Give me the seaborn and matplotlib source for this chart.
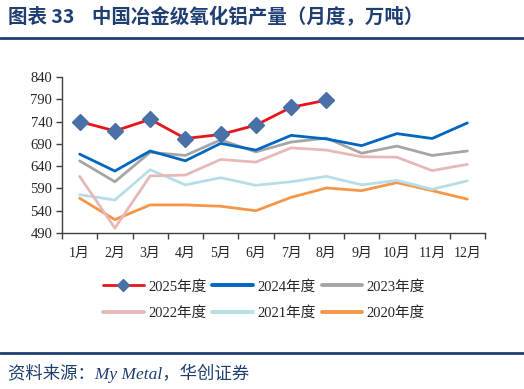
import numpy as np
import matplotlib
matplotlib.use("Agg")
import matplotlib.pyplot as plt
import pandas as pd
import seaborn as sns
from matplotlib.lines import Line2D

# 数据（万吨）
months = ['1月', '2月', '3月', '4月', '5月', '6月', '7月', '8月', '9月', '10月', '11月', '12月']
y2025 = [740, 719, 745, 702, 711, 732, 772, 788]
y2024 = [667, 629, 674, 652, 691, 676, 709, 701, 686, 713, 702, 737]
y2023 = [652, 605, 671, 664, 699, 672, 694, 703, 669, 685, 664, 674]
y2022 = [617, 501, 618, 620, 655, 649, 681, 676, 661, 660, 630, 644]
y2021 = [576, 564, 632, 598, 614, 597, 605, 617, 598, 608, 588, 607]
y2020 = [568, 520, 553, 553, 550, 540, 570, 591, 585, 603, 585, 566]

series = [
    ('2025年度', y2025, '#E8141B'),
    ('2024年度', y2024, '#0066C0'),
    ('2023年度', y2023, '#A6A6A6'),
    ('2022年度', y2022, '#E6B9B8'),
    ('2021年度', y2021, '#B7DEE8'),
    ('2020年度', y2020, '#F79646'),
]

sns.set_style("ticks")
plt.rcParams['font.family'] = ['Liberation Serif', 'Noto Sans CJK SC', 'DejaVu Sans']

fig = plt.figure(figsize=(5.24, 3.89), dpi=100)
ax = fig.add_axes([62/524, 1-233/389, (485-62)/524, (233-77)/389])

navy = '#1F3F73'
handles = {}
# 先画旧年份，再画2025
for name, vals, col in reversed(series):
    df = pd.DataFrame({'x': np.arange(len(vals)), 'v': vals})
    sns.lineplot(data=df, x='x', y='v', ax=ax, color=col, linewidth=2.0, legend=False)
    if name == '2025年度':
        ax.plot(df['x'], df['v'], linestyle='none', marker='D', markersize=8,
                markerfacecolor='#4A70A8', markeredgecolor='#4A70A8', zorder=5)
        handles[name] = Line2D([], [], color=col, linewidth=2.0, marker='D', markersize=6,
                               markerfacecolor='#4A70A8', markeredgecolor='#4A70A8')
    else:
        handles[name] = Line2D([], [], color=col, linewidth=2.8)

ax.set_xlim(-0.5, 11.5)
ax.set_ylim(490, 840)
ax.set_yticks(np.arange(490, 841, 50))
ax.set_xticks(np.arange(12))
ax.set_xticklabels(months)
ax.set_xticks(np.arange(-0.5, 12, 1), minor=True)
ax.tick_params(axis='x', which='major', length=0, pad=10, labelsize=10)
ax.tick_params(axis='x', which='minor', length=4, width=1, color='#404040')
ax.tick_params(axis='y', length=4, width=1, color='#404040', labelsize=10.5, pad=3)
ax.set_xlabel('')
ax.set_ylabel('')
for s in ['top', 'right']:
    ax.spines[s].set_visible(False)
for s in ['left', 'bottom']:
    ax.spines[s].set_color('#404040')
    ax.spines[s].set_linewidth(1)

order = ['2025年度', '2022年度', '2024年度', '2021年度', '2023年度', '2020年度']
fig.legend([handles[k] for k in order], order, ncol=3, loc='center',
           bbox_to_anchor=(264/524, 1-300/389), frameon=False, fontsize=10.5,
           handlelength=2.8, handletextpad=0.3, columnspacing=0.4, labelspacing=0.9)

# 标题和来源
fig.text(8/524, 1-17/389, '图表 33    中国冶金级氧化铝产量（月度，万吨）', color=navy,
         fontsize=14, fontweight='bold', va='center', ha='left',
         family=['Noto Sans CJK SC', 'DejaVu Sans'])
fig.add_artist(Line2D([0, 1], [1-38/389, 1-38/389], color=navy, linewidth=2))
fig.add_artist(Line2D([0, 1], [1-352.5/389, 1-352.5/389], color=navy, linewidth=2))
fig.text(8/524, 1-373/389, '资料来源：My Metal，华创证券', color=navy, fontsize=12.5,
         style='italic', va='center', ha='left',
         family=['Liberation Serif', 'Noto Sans CJK SC'])

fig.savefig('out.png', dpi=100)
